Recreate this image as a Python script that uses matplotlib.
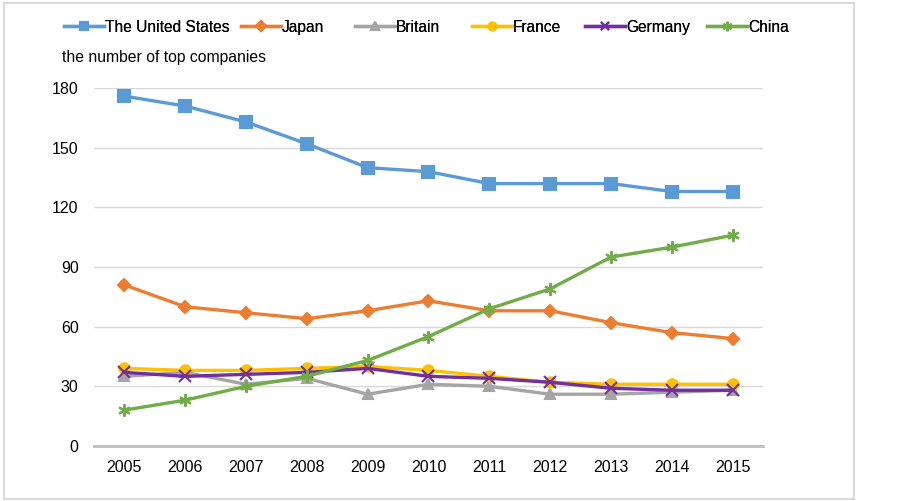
import matplotlib
matplotlib.use('Agg')
import matplotlib.pyplot as plt
from matplotlib.patches import Rectangle

plt.rcParams['font.family'] = ['Liberation Sans', 'DejaVu Sans']

years = ['2005', '2006', '2007', '2008', '2009', '2010', '2011', '2012', '2013', '2014', '2015']
us = [176, 171, 163, 152, 140, 138, 132, 132, 132, 128, 128]
japan = [81, 70, 67, 64, 68, 73, 68, 68, 62, 57, 54]
britain = [35, 37, 31, 34, 26, 31, 30, 26, 26, 27, 28]
france = [39, 38, 38, 39, 40, 38, 35, 32, 31, 31, 31]
germany = [37, 35, 36, 37, 39, 35, 34, 32, 29, 28, 28]
china = [18, 23, 30, 35, 43, 55, 69, 79, 95, 100, 106]

series = [
    ('The United States', us, '#5B9BD5', 's', 8),
    ('Japan', japan, '#ED7D31', 'D', 6.5),
    ('Britain', britain, '#A5A5A5', '^', 7.5),
    ('France', france, '#FFC000', 'o', 7.5),
    ('Germany', germany, '#7030A0', 'x', 8),
    ('China', china, '#70AD47', (6, 2, 0), 9),
]
# left edge (px) of each legend entry, as in the excel layout
legend_x = [64, 241, 355, 472, 585, 707]

fig = plt.figure(figsize=(9.03, 5.01), dpi=100)
ax = fig.add_axes([0.104, 0.110, 0.741, 0.714])

x = list(range(len(years)))
handles = []
for name, vals, col, mk, ms in series:
    h, = ax.plot(x, vals, color=col, lw=2.4, marker=mk, markersize=ms,
                 markerfacecolor=col, markeredgecolor=col, markeredgewidth=1.5,
                 label=name, clip_on=False)
    handles.append(h)

ax.set_xlim(-0.5, 10.5)
ax.set_ylim(0, 180)
ax.set_yticks([0, 30, 60, 90, 120, 150, 180])
ax.set_xticks(x)
ax.set_xticklabels(years)
ax.tick_params(axis='both', length=0, labelsize=11.5, colors='#000000', pad=10)
ax.tick_params(axis='y', pad=11)
ax.grid(axis='y', color='#d9d9d9', lw=1)
ax.set_axisbelow(True)
for s in ['top', 'right', 'left']:
    ax.spines[s].set_visible(False)
ax.spines['bottom'].set_color('#bfbfbf')
ax.spines['bottom'].set_linewidth(2)

fig.text(0.069, 0.886, 'the number of top companies', fontsize=11.3, va='center', ha='left')

for h, lx in zip(handles, legend_x):
    fig.add_artist(fig.legend([h], [h.get_label()], loc='center left',
                              bbox_to_anchor=(lx / 903, 0.946), frameon=False,
                              fontsize=11.2, handlelength=2.6, handletextpad=0.05,
                              borderpad=0, borderaxespad=0, markerscale=0.75))

fig.patches.append(Rectangle((0.004, 0.004), 0.942, 0.99, transform=fig.transFigure,
                             fill=False, edgecolor='#d9d9d9', lw=1.5))

fig.savefig('out.png', dpi=100)
